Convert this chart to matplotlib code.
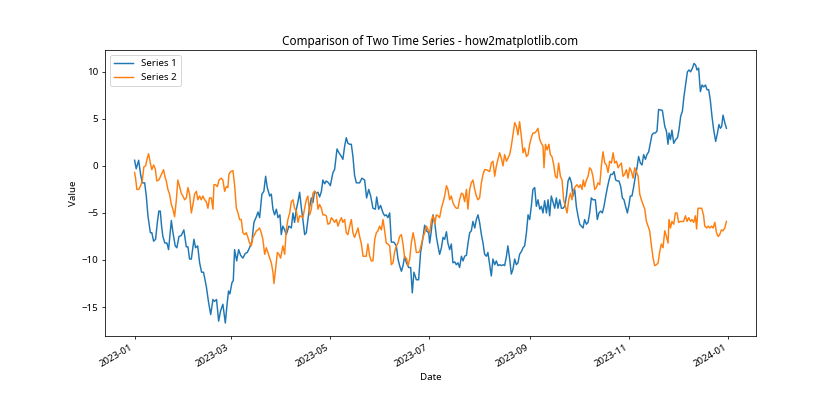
import matplotlib
matplotlib.use("Agg")
import matplotlib.pyplot as plt
import pandas as pd

plt.rcParams['font.family'] = ['Noto Sans', 'DejaVu Sans']

# values (day offset from 2023-01-01, value)
days_1 = [0, 1.0, 2.5, 3.7, 4.7, 6.2, 7.2, 8.2, 9.7, 10.6, 11.7, 12.9, 14.0, 14.9, 15.8,
          16.6, 17.4, 18.6, 19.9, 20.9, 22.6, 23.6, 25.0, 26.0, 27.3, 28.7, 30.3, 31.8,
          32.8, 33.8, 34.9, 36.5, 37.5, 38.8, 40.0, 41.2, 42.4, 44.1, 45.5, 46.8, 48.2,
          49.2, 50.4, 51.7, 52.9, 54.3, 55.8, 57.0, 57.8, 58.6, 59.9, 60.7, 61.5, 62.8,
          64.0, 65.2, 66.6, 68.1, 69.3, 70.7, 72.2, 73.4, 74.9, 75.9, 76.9, 78.3, 79.5,
          80.6, 81.6, 83.1, 84.1, 85.1, 86.1, 87.2, 88.2, 89.4, 90.2, 91.2, 92.3, 93.3,
          94.9, 96.4, 97.4, 98.4, 99.5, 100.5, 101.5, 102.6, 103.5, 104.6, 105.6, 106.6,
          107.7, 108.7, 109.7, 110.7, 111.8, 112.8, 113.8, 114.9, 115.8, 116.9, 117.9,
          119.3, 120.4, 122.0, 123.0, 124.5, 125.7, 127.2, 128.1, 129.2, 130.2, 131.2,
          132.3, 133.3, 134.3, 135.3, 136.4, 138.4, 139.8, 141.5, 142.7, 144.0, 145.2,
          146.6, 148.1, 148.9, 150.1, 151.3, 152.8, 153.8, 154.8, 155.8, 156.9, 157.9,
          159.5, 161.0, 162.0, 163.0, 164.1, 165.1, 166.1, 167.2, 168.6, 169.8, 170.8,
          171.8, 173.3, 174.7, 175.9, 177.4, 178.4, 179.5, 180.9, 181.5, 182.5, 183.5,
          184.6, 185.6, 186.6, 187.6, 188.7, 189.7, 190.7, 191.8, 192.7, 193.8, 194.8,
          195.8, 196.9, 197.9, 198.9, 199.9, 201.0, 202.0, 203.0, 204.1, 205.0, 206.1,
          207.1, 208.1, 209.2, 210.2, 211.2, 212.2, 213.3, 214.3, 215.3, 216.4, 217.3,
          218.4, 219.4, 220.4, 221.5, 222.5, 223.5, 224.5, 225.6, 226.6, 227.6, 228.7,
          229.6, 230.7, 231.7, 232.7, 233.8, 234.8, 235.8, 236.8, 237.9, 238.9, 239.9,
          241.0, 242.0, 243.0, 244.0, 245.0, 246.1, 247.1, 248.1, 249.2, 250.2, 251.2,
          252.2, 253.3, 254.3, 255.3, 256.3, 257.4, 258.4, 259.4, 260.4, 261.5, 262.5,
          263.5, 264.5, 265.6, 266.6, 267.6, 268.7, 269.6, 270.7, 271.7, 272.7, 273.8,
          274.8, 275.8, 276.8, 277.9, 278.9, 279.9, 280.9, 281.9, 283.4, 284.6, 285.6,
          286.7, 287.7, 288.7, 289.8, 290.8, 291.8, 292.8, 293.9, 294.9, 295.9, 296.9,
          297.9, 299.0, 300.0, 301.0, 302.0, 303.1, 304.1, 304.9, 305.9, 306.9, 308.0,
          309.0, 310.0, 311.1, 312.1, 313.1, 314.2, 315.1, 316.2, 317.2, 318.2, 319.3,
          320.3, 321.3, 322.3, 324.6, 326.1, 327.1, 328.1, 328.7, 329.6, 330.5, 331.6,
          332.8, 333.9, 334.8, 335.9, 336.9, 337.9, 339.0, 340.0, 341.0, 342.0, 343.1,
          344.1, 345.1, 345.9, 346.9, 348.0, 349.0, 350.0, 351.1, 352.1, 353.1, 354.1,
          355.1, 356.2, 357.4, 358.5, 359.4, 360.3, 361.1, 361.9, 363.0, 364.0]
series_1 = [0.6, -0.3, 0.6, -0.9, -1.8, -1.8, -3.2, -5.3, -7.1, -7.1, -8.0, -7.8, -6.0, -4.8,
            -4.8, -6.4, -7.5, -8.2, -8.2, -8.9, -5.8, -7.1, -8.5, -8.7, -7.5, -7.4, -6.8,
            -8.6, -8.6, -9.9, -9.9, -7.8, -8.7, -8.5, -10.3, -11.3, -11.3, -12.8, -14.5,
            -15.8, -14.2, -14.4, -14.2, -16.5, -15.4, -14.7, -16.7, -14.5, -13.3, -13.6,
            -12.4, -12.2, -8.9, -10.1, -8.9, -9.5, -9.8, -9.3, -9.2, -8.7, -8.0, -6.0, -5.4,
            -4.9, -5.5, -3.0, -2.7, -1.1, -2.3, -3.2, -3.0, -4.6, -5.2, -4.6, -5.5, -5.2,
            -7.3, -6.4, -6.8, -7.3, -6.4, -6.6, -5.0, -6.0, -4.6, -3.8, -2.8, -4.5, -5.7,
            -7.3, -7.1, -5.7, -4.3, -3.4, -3.9, -2.7, -2.9, -2.8, -3.3, -2.7, -1.5, -1.9,
            -1.6, -1.8, -2.1, -0.7, -0.4, 1.8, 1.4, 1.0, 0.7, 2.1, 3.0, 2.4, 2.3, 2.3, 1.0,
            -1.0, -1.8, -1.8, -1.3, -1.5, -3.4, -2.5, -3.2, -4.5, -4.6, -3.3, -4.6, -4.2,
            -5.0, -5.3, -5.2, -5.5, -5.0, -8.1, -8.1, -8.5, -9.9, -10.6, -11.2, -10.6, -9.6,
            -10.3, -10.8, -10.8, -13.5, -11.3, -12.1, -12.1, -9.2, -7.6, -6.3, -6.9, -7.1,
            -8.2, -6.9, -5.2, -6.0, -7.5, -8.5, -9.4, -8.7, -7.6, -7.8, -7.0, -8.2, -8.9,
            -8.3, -10.3, -10.2, -10.5, -10.3, -10.8, -9.6, -10.1, -9.6, -9.5, -8.3, -7.1,
            -6.9, -5.9, -6.6, -5.7, -5.2, -6.0, -7.3, -8.2, -9.4, -9.6, -9.2, -10.5, -11.7,
            -9.9, -10.5, -10.1, -10.6, -10.5, -10.6, -10.5, -10.6, -9.6, -8.5, -9.9, -11.5,
            -11.0, -9.9, -10.5, -10.3, -9.4, -9.1, -8.7, -8.5, -7.1, -5.2, -5.7, -4.3, -2.5,
            -2.3, -4.3, -3.6, -4.6, -4.3, -5.0, -3.7, -5.0, -3.6, -5.3, -3.2, -3.9, -4.5,
            -3.4, -4.5, -3.6, -4.5, -4.5, -4.3, -3.2, -1.6, -1.2, -1.8, -3.2, -2.5, -4.3,
            -5.3, -6.2, -6.4, -6.6, -5.7, -6.2, -6.0, -5.0, -3.4, -3.6, -3.6, -5.7, -5.0,
            -4.8, -5.0, -4.3, -3.2, -2.3, -1.5, -0.9, -0.9, -0.6, -1.5, -1.6, -1.6, -2.2,
            -3.4, -3.6, -4.3, -5.0, -4.1, -3.2, -3.2, -2.3, -1.1, -0.2, 1.0, 0.3, 0.1, 1.2,
            0.7, 1.2, 1.5, 2.4, 3.3, 3.5, 3.5, 3.7, 6.0, 5.9, 4.2, 3.7, 2.3, 3.5, 2.8, 3.8,
            2.4, 2.8, 3.0, 3.8, 5.3, 5.8, 7.4, 8.8, 10.0, 10.2, 10.0, 10.4, 10.9, 10.7,
            10.2, 10.4, 7.9, 8.6, 8.4, 8.6, 8.1, 8.1, 7.0, 5.3, 3.8, 2.6, 3.5, 4.4, 4.0,
            4.2, 5.4, 4.6, 4.0]

days_2 = [0.0, 0.6, 1.4, 2.6, 3.7, 4.7, 5.7, 6.8, 7.6, 8.6, 9.7, 10.6, 11.7, 12.7, 13.7,
          14.9, 16.0, 17.0, 17.8, 18.6, 19.5, 20.5, 21.5, 22.6, 23.6, 24.6, 25.7, 26.6,
          27.7, 28.7, 29.7, 30.8, 31.8, 32.8, 33.8, 34.9, 35.9, 36.9, 38.0, 38.9, 40.0,
          41.0, 42.0, 43.1, 44.1, 45.1, 46.1, 47.2, 48.2, 48.8, 49.8, 50.9, 51.9, 53.3,
          54.3, 55.4, 56.4, 57.4, 58.0, 59.1, 60.5, 61.5, 62.6, 63.6, 64.6, 65.6, 66.6,
          67.7, 68.7, 69.7, 70.7, 71.8, 72.8, 73.8, 74.9, 75.9, 76.9, 77.9, 78.9, 80.0,
          81.0, 82.0, 83.1, 84.1, 85.1, 85.7, 86.7, 87.8, 88.8, 89.8, 91.2, 92.3, 93.3,
          94.3, 95.4, 96.4, 97.4, 98.4, 99.5, 100.5, 101.5, 102.6, 103.5, 104.6, 105.6,
          106.6, 107.7, 108.7, 109.7, 110.7, 111.8, 112.8, 113.8, 114.9, 115.8, 116.9,
          117.9, 118.9, 120.0, 121.0, 122.0, 123.0, 124.1, 125.1, 126.1, 127.2, 128.1,
          129.2, 130.2, 131.2, 132.3, 133.3, 134.3, 135.3, 136.4, 137.4, 138.4, 139.5,
          140.5, 141.5, 142.5, 143.5, 144.6, 145.6, 146.6, 147.7, 148.7, 149.7, 150.7,
          151.8, 152.8, 153.8, 154.8, 155.8, 156.9, 157.9, 158.9, 160.0, 161.0, 162.0,
          163.0, 164.1, 165.1, 166.1, 167.2, 168.2, 169.2, 170.2, 171.3, 172.3, 173.3,
          174.3, 175.3, 176.4, 177.4, 178.4, 179.5, 180.5, 181.5, 182.5, 183.5, 184.6,
          185.6, 186.6, 187.6, 188.7, 189.7, 190.7, 191.8, 192.7, 193.8, 194.8, 195.8,
          196.9, 197.9, 198.9, 199.9, 201.0, 202.0, 203.0, 204.1, 205.0, 206.1, 207.1,
          208.1, 209.2, 210.2, 211.2, 212.2, 213.3, 214.3, 215.3, 216.4, 217.3, 218.4,
          219.4, 220.4, 221.5, 222.5, 223.5, 224.5, 225.6, 226.6, 227.6, 228.7, 229.6,
          230.7, 231.7, 232.7, 233.8, 234.8, 235.8, 236.8, 237.9, 238.9, 239.9, 241.0,
          242.0, 243.0, 244.0, 245.0, 246.1, 247.1, 248.1, 249.2, 250.2, 251.2, 251.8,
          252.7, 253.7, 254.8, 255.7, 256.7, 257.8, 258.8, 259.8, 260.8, 261.9, 262.9,
          263.9, 265.0, 266.0, 267.0, 268.1, 269.0, 270.1, 271.1, 272.1, 273.2, 274.2,
          275.2, 276.0, 276.8, 277.9, 278.9, 279.9, 280.9, 281.9, 283.0, 284.0, 285.0,
          286.1, 287.1, 288.1, 289.2, 290.2, 291.2, 292.2, 293.3, 294.3, 295.3, 296.4,
          297.4, 298.4, 299.4, 300.4, 301.4, 302.5, 303.5, 304.5, 305.6, 306.6, 307.6,
          308.6, 309.7, 310.7, 311.7, 312.7, 313.8, 314.8, 315.8, 316.8, 317.9, 318.9,
          319.9, 321.0, 322.0, 323.0, 324.0, 325.0, 326.1, 327.1, 328.1, 328.7, 329.6,
          330.5, 331.6, 332.6, 333.6, 334.6, 335.7, 336.7, 337.7, 338.8, 339.8, 340.8,
          341.9, 342.8, 343.9, 344.9, 345.7, 346.5, 347.6, 348.8, 349.9, 350.7, 351.8,
          352.8, 353.8, 354.8, 355.8, 356.9, 357.9, 358.9, 359.9, 360.9, 361.9, 363.0,
          364.0]
series_2 = [-0.7, -1.3, -2.5, -2.5, -2.1, -1.6, -0.1, 0.0, 0.7, 1.3, 0.3, -0.4, 0.1, -0.3,
            -1.6, -1.5, -1.1, -0.7, -0.4, -1.1, -1.6, -2.5, -3.0, -4.1, -4.6, -5.4, -3.6,
            -1.5, -2.2, -2.9, -3.2, -3.6, -3.4, -2.3, -3.0, -5.0, -4.1, -3.0, -2.7, -3.6,
            -3.2, -3.6, -3.2, -3.6, -3.8, -4.5, -3.4, -3.4, -4.6, -2.0, -2.0, -2.2, -1.5,
            -1.3, -1.5, -2.7, -2.2, -2.3, -0.9, -0.6, -0.5, -2.0, -4.5, -5.0, -5.7, -5.7,
            -7.1, -7.3, -7.1, -7.6, -8.2, -8.5, -7.6, -7.3, -6.9, -6.8, -6.6, -7.1, -7.8,
            -9.4, -8.7, -9.2, -9.8, -10.3, -11.3, -12.5, -11.0, -9.2, -9.4, -9.8, -8.5, -9.4,
            -6.8, -5.7, -5.0, -3.8, -3.6, -4.5, -4.8, -6.0, -5.3, -5.4, -5.5, -4.5, -3.6,
            -3.2, -5.2, -4.6, -2.9, -2.7, -2.9, -4.6, -4.1, -4.5, -5.2, -5.2, -5.3, -6.2,
            -6.1, -5.5, -5.7, -6.0, -5.7, -6.4, -5.9, -5.5, -6.0, -5.7, -7.1, -7.3, -6.4,
            -5.7, -7.1, -7.6, -7.1, -6.6, -7.5, -8.3, -9.6, -9.6, -9.6, -8.3, -9.6, -10.1,
            -10.1, -7.8, -7.1, -6.9, -6.4, -6.8, -5.7, -6.9, -8.2, -8.3, -8.5, -10.5, -10.3,
            -9.1, -8.5, -8.2, -7.5, -7.3, -8.3, -9.8, -9.8, -10.6, -9.9, -8.2, -7.1, -8.0,
            -9.2, -9.2, -9.1, -8.3, -7.6, -7.1, -6.4, -6.8, -7.1, -5.8, -5.3, -6.2, -5.2,
            -5.3, -5.5, -4.5, -3.9, -3.2, -2.1, -2.5, -3.6, -3.2, -3.9, -4.3, -4.5, -4.5,
            -3.6, -2.9, -3.0, -3.8, -2.5, -4.6, -2.5, -1.8, -1.5, -2.5, -3.2, -3.6, -3.4,
            -1.8, -0.9, -0.4, -0.4, -0.5, -0.6, 0.3, 0.5, -1.1, 0.0, 0.7, 1.4, 0.8, 0.0,
            1.2, 0.5, 0.8, 1.2, 2.1, 3.3, 4.6, 4.2, 3.3, 4.7, 3.1, 1.4, 1.9, 1.0, 1.2, 2.3,
            3.0, 3.5, 3.5, 3.7, 4.0, 2.8, 2.4, 2.1, -0.2, 2.3, 1.7, 2.3, 1.2, 1.0, 0.1,
            -1.1, -1.3, 0.3, -1.1, -1.5, -3.6, -4.3, -5.0, -3.6, -2.9, -3.6, -2.5, -2.2,
            -2.0, -2.3, -2.0, -2.5, -1.5, -2.2, -1.5, -1.1, -0.2, -0.4, -1.1, -2.5, -2.3,
            -1.8, -2.0, 0.0, 1.5, 0.3, 0.1, -0.7, 0.5, 0.3, 1.4, 0.3, 0.5, -0.2, 0.1, 0.3,
            -1.1, -0.9, -0.4, -1.3, -0.2, -0.6, -1.3, -0.2, -0.6, -1.1, -3.0, -3.6, -4.1,
            -4.6, -5.9, -6.4, -6.9, -8.5, -9.8, -10.6, -10.5, -10.3, -9.1, -8.3, -8.7, -6.9,
            -7.5, -8.2, -5.7, -6.6, -5.9, -6.2, -5.0, -5.0, -6.0, -5.9, -5.9, -5.9, -5.3,
            -5.9, -5.5, -5.9, -5.7, -6.0, -5.3, -6.7, -4.5, -4.5, -4.5, -5.2, -6.4, -6.6,
            -6.4, -6.6, -6.4, -6.6, -6.0, -7.1, -7.5, -7.3, -6.8, -6.9, -6.6, -5.9]

start = pd.Timestamp("2023-01-01")
dates_1 = start + pd.to_timedelta(days_1, unit="D")
dates_2 = start + pd.to_timedelta(days_2, unit="D")

fig, ax = plt.subplots(figsize=(12, 6), dpi=70)

ax.plot(dates_1, series_1, label="Series 1")
ax.plot(dates_2, series_2, label="Series 2")
ax.set_title("Comparison of Two Time Series - how2matplotlib.com")
ax.set_xlabel("Date")
ax.set_ylabel("Value")
ax.legend(loc="upper left")

fig.autofmt_xdate()
plt.savefig("out.png", dpi=70)
